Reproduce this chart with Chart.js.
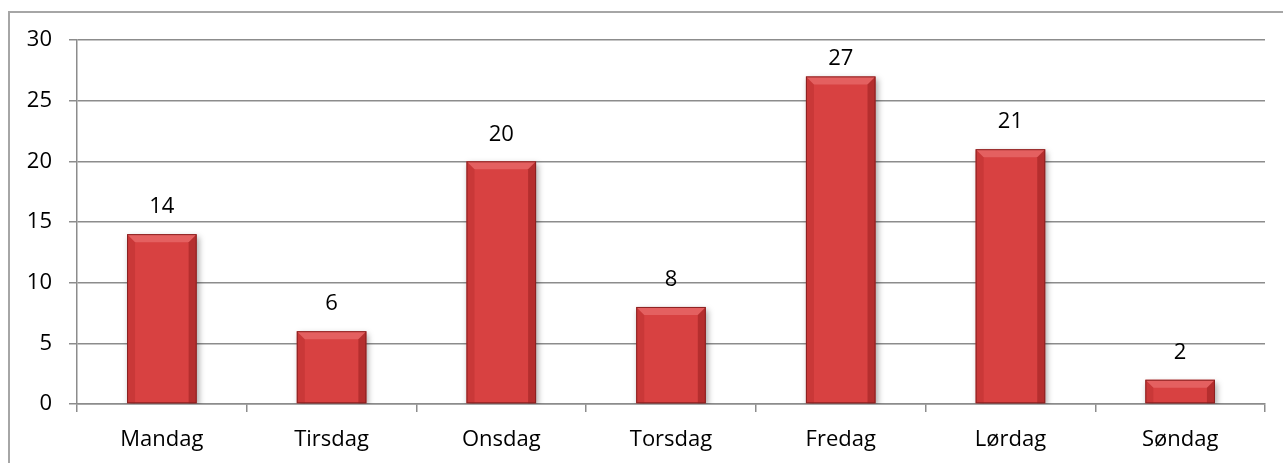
<!DOCTYPE html>
<html>
<head>
<meta charset="utf-8">
<script src="https://cdn.jsdelivr.net/npm/chart.js@4/dist/chart.umd.min.js"></script>
<style>
  html, body { margin: 0; padding: 0; background: #fff; overflow: hidden; }
  #wrap { position: relative; width: 1283px; height: 463px; }
  #frame { position: absolute; left: 8px; top: 11px; width: 1290px; height: 470px; border: 2px solid #a6a6a6; box-sizing: border-box; }
  #chart { position: absolute; left: 0; top: 0; }
</style>
</head>
<body>
<div id="wrap">
  <div id="frame"></div>
  <canvas id="chart" width="1283" height="463"></canvas>
</div>
<script>
const days = ['Mandag', 'Tirsdag', 'Onsdag', 'Torsdag', 'Fredag', 'Lørdag', 'Søndag'];
const counts = [14, 6, 20, 8, 27, 21, 2];
const yTicks = [0, 5, 10, 15, 20, 25, 30];

const font = "'Open Sans', 'Noto Sans', sans-serif";

// drop shadow under the bars
const barShadow = {
  id: 'barShadow',
  beforeDatasetsDraw(chart) {
    const ctx = chart.ctx;
    ctx.save();
    ctx.shadowColor = 'rgba(0,0,0,0.35)';
    ctx.shadowBlur = 6;
    ctx.shadowOffsetX = 2;
    ctx.shadowOffsetY = 3;
  },
  afterDatasetsDraw(chart) {
    chart.ctx.restore();
  }
};

// bevelled edges on the bars + value labels
const bevelAndLabels = {
  id: 'bevelAndLabels',
  afterDatasetsDraw(chart) {
    const ctx = chart.ctx;
    const meta = chart.getDatasetMeta(0);
    const b = 8;
    meta.data.forEach((bar, i) => {
      const l = bar.x - bar.width / 2, r = bar.x + bar.width / 2;
      const t = bar.y, bt = bar.base;
      const bv = Math.min(b, (bt - t) / 2);
      ctx.save();
      // top
      ctx.fillStyle = 'rgba(255,170,170,0.3)';
      ctx.beginPath();
      ctx.moveTo(l, t); ctx.lineTo(r, t); ctx.lineTo(r - bv, t + bv); ctx.lineTo(l + bv, t + bv); ctx.closePath(); ctx.fill();
      // left
      ctx.fillStyle = 'rgba(120,10,10,0.15)';
      ctx.beginPath();
      ctx.moveTo(l, t); ctx.lineTo(l + bv, t + bv); ctx.lineTo(l + bv, bt); ctx.lineTo(l, bt); ctx.closePath(); ctx.fill();
      // right
      ctx.fillStyle = 'rgba(90,0,0,0.28)';
      ctx.beginPath();
      ctx.moveTo(r, t); ctx.lineTo(r - bv, t + bv); ctx.lineTo(r - bv, bt); ctx.lineTo(r, bt); ctx.closePath(); ctx.fill();
      ctx.strokeStyle = '#8a2020';
      ctx.lineWidth = 1;
      ctx.strokeRect(l + 0.5, t + 0.5, bar.width - 1, bt - t - 1);
      ctx.restore();
    });

    ctx.save();
    ctx.fillStyle = '#000';
    ctx.font = '22px ' + font;
    ctx.textAlign = 'center';
    ctx.textBaseline = 'middle';
    meta.data.forEach((bar, i) => {
      const y = Math.max(bar.y - 27, chart.chartArea.top + 19);
      ctx.fillText(counts[i], bar.x, y);
    });
    ctx.restore();
  }
};

new Chart(document.getElementById('chart'), {
  type: 'bar',
  data: {
    labels: days,
    datasets: [{
      data: counts,
      backgroundColor: '#d84141',
      borderWidth: 0,
      barPercentage: 0.41,
      categoryPercentage: 1
    }]
  },
  options: {
    responsive: false,
    animation: false,
    layout: { padding: { left: 0, top: 40, right: 18, bottom: 0 } },
    plugins: { legend: { display: false }, tooltip: { enabled: false } },
    scales: {
      x: {
        offset: true,
        grid: { offset: true, drawOnChartArea: false, drawTicks: true, tickLength: 8, color: '#8c8c8c', lineWidth: 1.5 },
        border: { color: '#8c8c8c', width: 1.5 },
        ticks: { color: '#000', font: { family: font, size: 22 }, padding: 15 },
        afterFit(scale) { scale.height = 59; }
      },
      y: {
        min: 0,
        max: 30,
        afterBuildTicks(scale) { scale.ticks = yTicks.map(v => ({ value: v })); },
        grid: { color: '#8c8c8c', lineWidth: 1.5, tickLength: 8 },
        border: { color: '#8c8c8c', width: 1.5 },
        ticks: { color: '#000', font: { family: font, size: 22 }, padding: 17 },
        afterFit(scale) { scale.width = 77; }
      }
    }
  },
  plugins: [barShadow, bevelAndLabels]
});
</script>
</body>
</html>
